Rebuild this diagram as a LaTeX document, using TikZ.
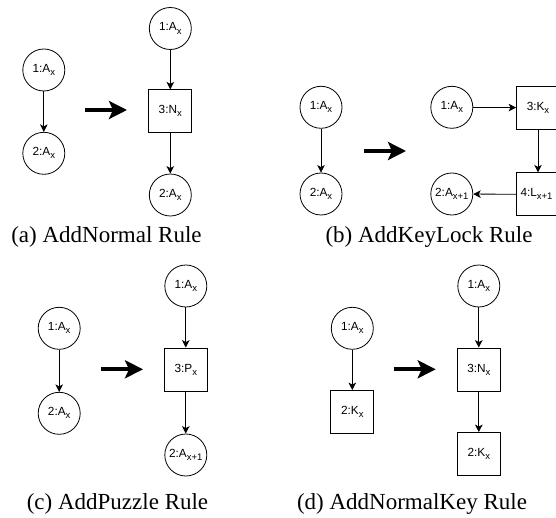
\documentclass[tikz,border=0pt]{standalone}
\usepackage{fontspec}
\setmainfont{Liberation Serif}
\newfontfamily\nodefont{Liberation Sans}
\usetikzlibrary{arrows.meta}
\newcommand\sbs[1]{\raisebox{-0.5ex}{\fontsize{9.5}{10}\selectfont #1}}
\tikzset{
  nfont/.style={font=\nodefont\fontsize{11.8}{13}\selectfont},
  cnode/.style={circle,draw,line width=0.8pt,minimum size=42pt,inner sep=0pt,nfont},
  snode/.style={rectangle,draw,line width=0.8pt,minimum size=43pt,inner sep=0pt,nfont},
  edge/.style={line width=0.8pt,-{Stealth[length=7.5pt,width=7.5pt,inset=2pt]}},
  bigarrow/.style={line width=4pt,-{Stealth[length=18pt,width=18pt,inset=4pt]},shorten >=-2pt},
  caption/.style={font=\fontsize{23}{26}\selectfont,anchor=center}
}
\begin{document}
\begin{tikzpicture}[x=1pt,y=-1pt]
\clip (0,0) rectangle (556,518);
% (a)
\node[cnode] (a1) at (43.8,70) {1:A\sbs{x}};
\node[cnode] (a2) at (43.8,153.3) {2:A\sbs{x}};
\draw[edge] (a1) -- (a2);
\coordinate (aas) at (85,110);
\coordinate (aae) at (125,110);
\draw[bigarrow] (aas) -- (aae);
\node[cnode] (a3) at (170.3,28.5) {1:A\sbs{x}};
\node[snode] (a4) at (170.3,111.3) {3:N\sbs{x}};
\node[cnode] (a5) at (170.3,195) {2:A\sbs{x}};
\draw[edge] (a3) -- (a4);
\draw[edge] (a4) -- (a5);
\node[caption] (ca) at (106.5,237) {(a) AddNormal Rule};
% (b)
\node[cnode] (b1) at (321,107.3) {1:A\sbs{x}};
\node[cnode] (b2) at (321,194) {2:A\sbs{x}};
\draw[edge] (b1) -- (b2);
\coordinate (bas) at (364,151);
\coordinate (bae) at (404,151);
\draw[bigarrow] (bas) -- (bae);
\node[cnode] (b3) at (451.8,107.3) {1:A\sbs{x}};
\node[snode] (b4) at (538,107.7) {3:K\sbs{x}};
\node[snode] (b5) at (538,194.3) {};
\node[nfont,inner sep=0pt] (b5t) at (536.5,194.3) {4:L\sbs{x+1}};
\node[cnode] (b6) at (451.8,194) {};
\node[nfont,inner sep=0pt] (b6t) at (451.8,194) {2:A\sbs{x+1}};
\draw[edge] (b3) -- (b4);
\draw[edge] (b4) -- (b5);
\draw[edge] (b5) -- (b6);
\node[caption] (cb) at (429,237) {(b) AddKeyLock Rule};
% (c)
\node[cnode] (c1) at (59.2,328.3) {1:A\sbs{x}};
\node[cnode] (c2) at (59.2,413.3) {2:A\sbs{x}};
\draw[edge] (c1) -- (c2);
\coordinate (cas) at (101,369.3);
\coordinate (cae) at (141,369.3);
\draw[bigarrow] (cas) -- (cae);
\node[cnode] (c3) at (185.8,286) {1:A\sbs{x}};
\node[snode] (c4) at (185.8,369.5) {3:P\sbs{x}};
\node[cnode] (c5) at (185.8,455) {};
\node[nfont,inner sep=0pt] (c5t) at (185.8,455) {2:A\sbs{x+1}};
\draw[edge] (c3) -- (c4);
\draw[edge] (c4) -- (c5);
\node[caption] (cc) at (117.5,504) {(c) AddPuzzle Rule};
% (d)
\node[cnode] (d1) at (352.3,328.3) {1:A\sbs{x}};
\node[snode] (d2) at (352.3,412) {2:K\sbs{x}};
\draw[edge] (d1) -- (d2);
\coordinate (das) at (393.7,369.3);
\coordinate (dae) at (433.7,369.3);
\draw[bigarrow] (das) -- (dae);
\node[cnode] (d3) at (478.8,286) {1:A\sbs{x}};
\node[snode] (d4) at (478.8,369.5) {3:N\sbs{x}};
\node[snode] (d5) at (478.8,454) {2:K\sbs{x}};
\draw[edge] (d3) -- (d4);
\draw[edge] (d4) -- (d5);
\node[caption] (cd) at (412,504) {(d) AddNormalKey Rule};
\end{tikzpicture}
\end{document}
